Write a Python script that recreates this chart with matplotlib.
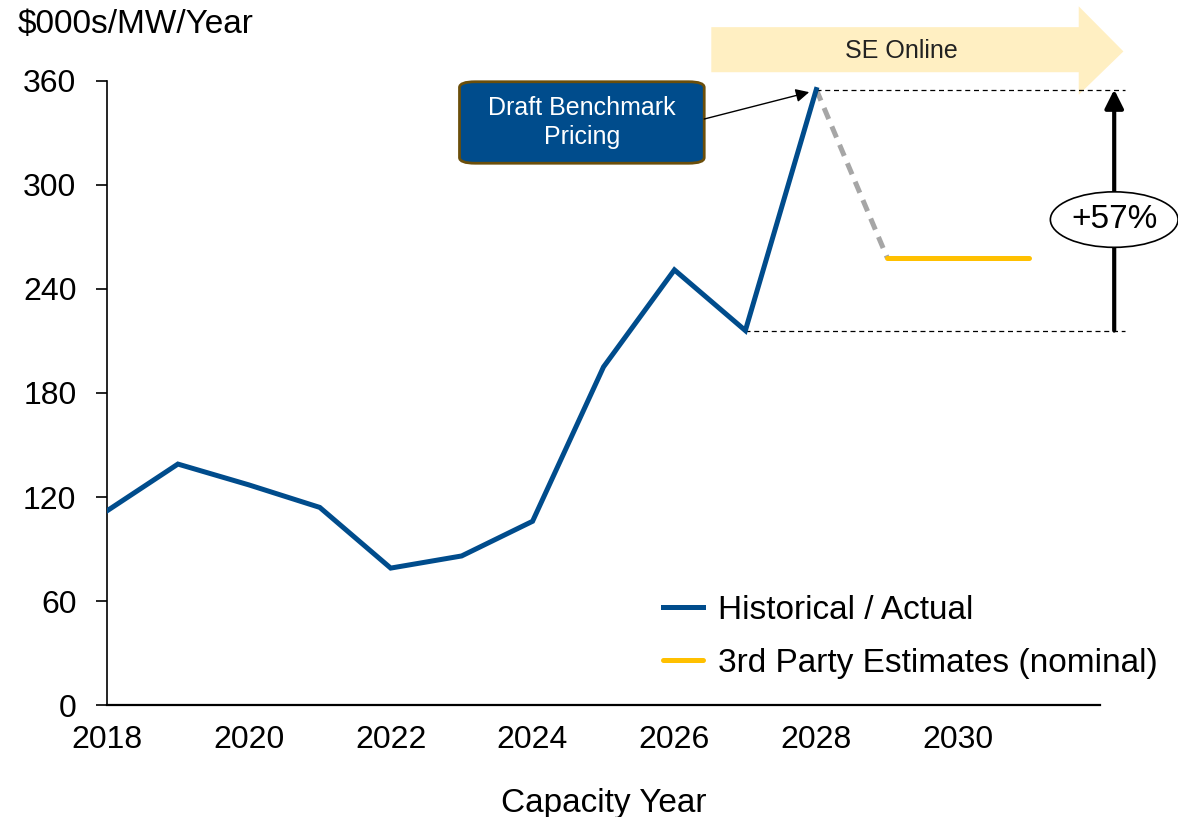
import matplotlib.pyplot as plt
from matplotlib.patches import FancyBboxPatch, Polygon, Ellipse

plt.rcParams['font.family'] = ['Liberation Sans', 'DejaVu Sans']

# capacity prices, $000s/MW/Year
hist_years = [2018, 2019, 2020, 2021, 2022, 2023, 2024, 2025, 2026, 2027, 2028]
hist_values = [112, 139, 127, 114, 79, 86, 106, 195, 251, 216, 355]
est_years = [2029, 2030, 2031]
est_values = [258, 258, 258]
bridge_years = [2028, 2029]
bridge_values = [355, 258]
x_ticks = [2018, 2020, 2022, 2024, 2026, 2028, 2030]
y_ticks = [0, 60, 120, 180, 240, 300, 360]
change_label = '+57%'

BLUE = '#004C8C'
GOLD = '#FFC000'
GREY = '#A6A6A6'

fig = plt.figure(figsize=(11.78, 8.17), dpi=100)
ax = fig.add_axes([0.0908, 0.137, 0.843, 0.764])

ax.plot(hist_years, hist_values, color=BLUE, lw=3.6, solid_joinstyle='miter',
        label='Historical / Actual', zorder=3)
ax.plot(bridge_years, bridge_values, color=GREY, lw=3.6, dashes=(2.4, 1.6), zorder=2)
ax.plot(est_years, est_values, color=GOLD, lw=3.6, solid_capstyle='round',
        label='3rd Party Estimates (nominal)', zorder=3)

ax.set_xlim(2018, 2032)
ax.set_ylim(0, 360)
ax.set_xticks(x_ticks)
ax.set_yticks(y_ticks)
ax.tick_params(axis='x', length=0, labelsize=23, pad=14)
ax.tick_params(axis='y', length=8, width=1.2, labelsize=23, pad=14)
for side in ('top', 'right'):
    ax.spines[side].set_visible(False)
ax.spines['left'].set_linewidth(1.2)
ax.spines['bottom'].set_linewidth(1.6)

ax.set_xlabel('Capacity Year', fontsize=24, labelpad=24)
fig.text(0.015, 0.970, '$000s/MW/Year', fontsize=24, ha='left', va='center')

# change bracket: dashed guides at the 2027 low and the 2028 peak
peak = hist_values[-1]
low = hist_values[-2]
x_arrow = 2032.2
ax.plot([2028, 2032.35], [peak, peak], color='black', lw=0.9, ls=(0, (4, 3)), clip_on=False)
ax.plot([2027, 2032.35], [low, low], color='black', lw=0.9, ls=(0, (4, 3)), clip_on=False)
ax.annotate('', xy=(x_arrow, peak), xytext=(x_arrow, low),
            arrowprops=dict(arrowstyle='-|>', color='black', lw=3, mutation_scale=28,
                            shrinkA=0, shrinkB=0),
            annotation_clip=False)
ax.add_patch(Ellipse((x_arrow, 280), 1.8, 32, fc='white', ec='black', lw=1.2,
                     clip_on=False, zorder=5))
ax.text(x_arrow, 280, change_label, fontsize=24, ha='center', va='center', zorder=6)

# "SE Online" banner arrow
banner = Polygon([(2026.52, 365), (2031.7, 365), (2031.7, 352), (2032.33, 377),
                  (2031.7, 403), (2031.7, 391), (2026.52, 391)],
                 closed=True, fc='#FFEFC2', ec='none', clip_on=False, zorder=1)
ax.add_patch(banner)
ax.text(2029.2, 377, 'SE Online', fontsize=18, ha='center', va='center', color='#222222')

# callout box pointing at the 2028 peak
box = FancyBboxPatch((2022.97, 312.5), 3.45, 47, boxstyle='round,pad=0,rounding_size=0.22',
                     mutation_aspect=15, fc=BLUE, ec='#6B4E0A', lw=2, clip_on=False, zorder=4)
ax.add_patch(box)
ax.text(2024.7, 336, 'Draft Benchmark\nPricing', fontsize=18, color='white',
        ha='center', va='center', linespacing=1.3, zorder=5)
ax.annotate('', xy=(2027.9, 353.5), xytext=(2026.42, 338),
            arrowprops=dict(arrowstyle='-|>', color='black', lw=1, mutation_scale=20,
                            shrinkA=0, shrinkB=0),
            zorder=5)

ax.legend(loc='lower left', bbox_to_anchor=(0.53, -0.006), frameon=False, fontsize=24,
          handlelength=1.2, handletextpad=0.45, labelspacing=0.65)

plt.savefig('out.png', dpi=100)
